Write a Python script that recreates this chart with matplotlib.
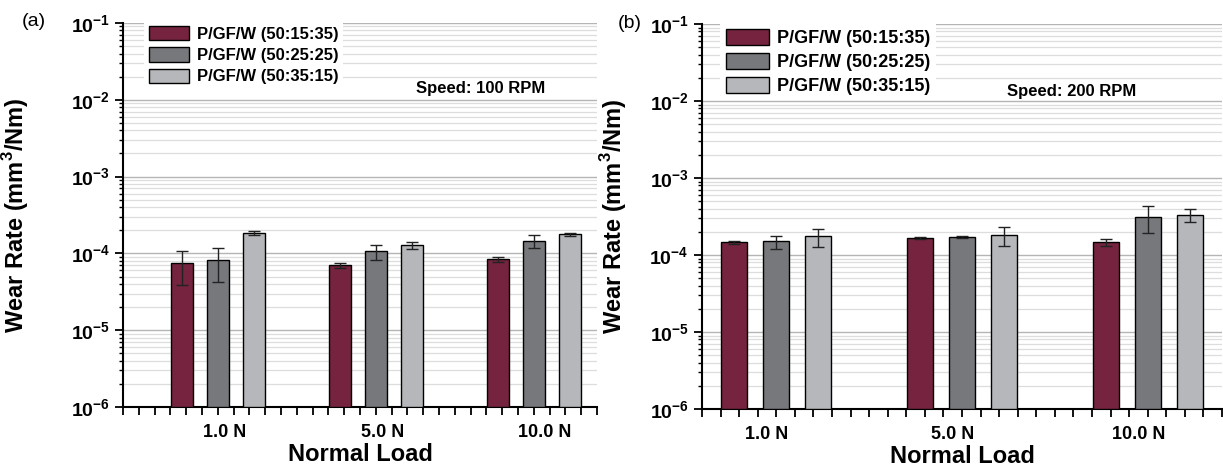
import matplotlib.pyplot as plt
from matplotlib.ticker import MultipleLocator, FixedLocator, LogLocator, FuncFormatter, NullFormatter
import math

plt.rcParams['font.family'] = ['Liberation Sans', 'DejaVu Sans']
plt.rcParams['mathtext.fontset'] = 'custom'
plt.rcParams['mathtext.rm'] = 'Liberation Sans:bold'
plt.rcParams['mathtext.bf'] = 'Liberation Sans:bold'

# Data
loads = ["1.0 N", "5.0 N", "10.0 N"]
series = ["P/GF/W (50:15:35)", "P/GF/W (50:25:25)", "P/GF/W (50:35:15)"]
colors = ["#75233f", "#77787c", "#b5b7ba"]

# speed 100 rpm
wear_100 = [
    [7.4e-5, 7.0e-5, 8.4e-5],
    [8.0e-5, 1.05e-4, 1.45e-4],
    [1.85e-4, 1.26e-4, 1.77e-4],
]
err_100 = [
    [3.5e-5, 0.6e-5, 0.7e-5],
    [3.7e-5, 2.3e-5, 2.6e-5],
    [1.3e-5, 1.3e-5, 0.9e-5],
]

# speed 200 rpm
wear_200 = [
    [1.46e-4, 1.65e-4, 1.46e-4],
    [1.49e-4, 1.71e-4, 3.14e-4],
    [1.75e-4, 1.82e-4, 3.30e-4],
]
err_200 = [
    [0.07e-4, 0.05e-4, 1.6e-5],
    [2.8e-5, 0.03e-4, 1.2e-4],
    [4.6e-5, 5.0e-5, 0.65e-4],
]

fig = plt.figure(figsize=(12.23, 4.71), dpi=100)


def log_fmt(v, pos):
    e = int(round(math.log10(v)))
    return r'$\mathbf{10^{%d}}$' % e


def panel(rect, wear, err, centers, xmax, label_pos, speed, speed_xy, tag, tag_xy,
          ylab_x, leg_anchor, fs):
    ax = fig.add_axes(rect)
    ax.set_yscale('log')
    ax.set_ylim(1e-6, 1e-1)
    ax.set_xlim(0, xmax)
    for i in range(3):
        xs = [c + (i - 1) * 2.27 for c in centers]
        ax.bar(xs, wear[i], width=1.4, bottom=1e-6, color=colors[i], edgecolor='black',
               linewidth=1.0, label=series[i], zorder=3)
        ax.errorbar(xs, wear[i], yerr=err[i], fmt='none', ecolor='#222222',
                    elinewidth=1.0, capsize=4, capthick=1.0, zorder=4)

    ax.yaxis.set_major_locator(LogLocator(base=10, numticks=10))
    ax.yaxis.set_minor_locator(LogLocator(base=10, subs=range(2, 10), numticks=20))
    ax.yaxis.set_major_formatter(FuncFormatter(log_fmt))
    ax.yaxis.set_minor_formatter(NullFormatter())
    ax.grid(which='major', axis='y', color='#b5b5b5', linewidth=1.0, zorder=0)
    ax.grid(which='minor', axis='y', color='#dddddd', linewidth=0.9, zorder=0)

    ax.xaxis.set_major_locator(FixedLocator(label_pos))
    ax.set_xticklabels(loads, fontsize=13, fontweight='bold')
    ax.xaxis.set_minor_locator(MultipleLocator(1))
    ax.tick_params(axis='x', which='major', length=0, pad=12)
    ax.tick_params(axis='x', which='minor', length=6, width=1.3, direction='out')
    ax.tick_params(axis='y', which='major', length=6, width=1.3, labelsize=14)
    ax.tick_params(axis='y', which='minor', length=3, width=1.0)

    for s in ['top', 'right']:
        ax.spines[s].set_visible(False)
    for s in ['left', 'bottom']:
        ax.spines[s].set_linewidth(1.5)

    ax.set_xlabel("Normal Load", fontsize=17, fontweight='bold', labelpad=2)
    ax.set_ylabel(r"Wear Rate (mm$^{\mathbf{3}}$/Nm)", fontsize=17, fontweight='bold')
    ax.yaxis.set_label_coords(ylab_x, 0.5)

    leg = ax.legend(loc='upper left', bbox_to_anchor=leg_anchor,
                    prop={'weight': 'bold', 'size': fs}, frameon=True, fancybox=False,
                    handlelength=2.4, handleheight=0.95, labelspacing=0.32,
                    handletextpad=0.45, borderpad=0.3, borderaxespad=0)
    leg.get_frame().set_facecolor('white')
    leg.get_frame().set_edgecolor('none')
    leg.get_frame().set_alpha(1)
    leg.set_zorder(5)

    ax.text(speed_xy[0], speed_xy[1], speed, transform=ax.transAxes, ha='center',
            va='center', fontsize=12, fontweight='bold', zorder=6)
    fig.text(tag_xy[0], tag_xy[1], tag, ha='center', va='center', fontsize=14)
    return ax


panel([0.1006, 0.1359, 0.3876, 0.8153], wear_100, err_100, [6, 16, 26], 30,
      [6.45, 16.45, 26.7], "Speed: 100 RPM", (0.755, 0.83), "(a)",
      (34 / 1223, 1 - 22 / 471), -0.194, (0.045, 1.005), 12)

panel([0.574, 0.1316, 0.4252, 0.8174], wear_200, err_200, [4, 14, 24], 28,
      [3.5, 13.5, 23.5], "Speed: 200 RPM", (0.71, 0.826), "(b)",
      (630 / 1223, 1 - 24 / 471), -0.14, (0.035, 1.0), 13)

fig.savefig("out.png", dpi=100)
